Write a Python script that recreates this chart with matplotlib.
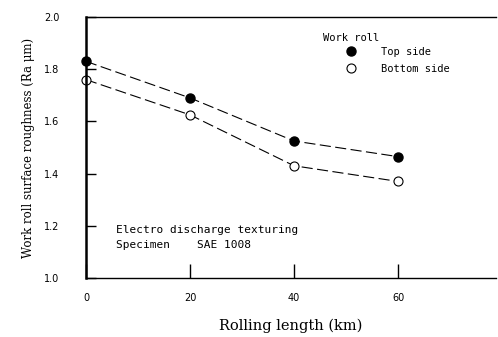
import matplotlib
matplotlib.use("Agg")
import matplotlib.pyplot as plt
from matplotlib.lines import Line2D

rolling_length = [0, 20, 40, 60]
top_side = [1.83, 1.69, 1.525, 1.465]
bottom_side = [1.76, 1.625, 1.43, 1.37]
y_ticks = [1.0, 1.2, 1.4, 1.6, 1.8, 2.0]
x_ticks = [0, 20, 40, 60]

plt.rcParams['font.family'] = ['DejaVu Serif']

fig = plt.figure(figsize=(4.98, 3.37), dpi=100)
ax = fig.add_axes([86/498, 1-278/337, 410/498, 261/337])

ax.plot(rolling_length, top_side, color='black', lw=0.8, ls=(0, (10, 4)),
        marker='o', markersize=6.5, markerfacecolor='black', markeredgecolor='black',
        clip_on=False)
ax.plot(rolling_length, bottom_side, color='black', lw=0.8, ls=(0, (10, 4)),
        marker='o', markersize=6.5, markerfacecolor='white', markeredgecolor='black',
        markeredgewidth=0.8, clip_on=False)

ax.set_xlim(0, 410/5.2)
ax.set_ylim(1.0, 2.0)
ax.set_xticks(x_ticks)
ax.set_yticks(y_ticks)
ax.set_xticklabels([str(v) for v in x_ticks], fontsize=7, family='DejaVu Sans')
ax.set_yticklabels([f"{v:.1f}" for v in y_ticks], fontsize=7, family='DejaVu Sans')
ax.tick_params(axis='y', direction='in', length=7, width=1, pad=19)
ax.tick_params(axis='x', direction='in', length=10, width=1, pad=11)

ax.spines['right'].set_visible(False)
ax.spines['left'].set_linewidth(1.8)
ax.spines['bottom'].set_linewidth(1.0)
ax.spines['top'].set_linewidth(1.0)

ax.set_xlabel('Rolling length (km)', fontsize=10.5, labelpad=11)
ax.set_ylabel('Work roll surface roughness (Ra \u03bcm)', fontsize=8.5, labelpad=7)

mono = 'DejaVu Sans Mono'
fig.text(323/498, 1-38/337, 'Work roll', fontsize=7.5, family=mono, va='center', ha='left')
handles = [
    Line2D([], [], ls='none', marker='o', markersize=6.5, markerfacecolor='black',
           markeredgecolor='black'),
    Line2D([], [], ls='none', marker='o', markersize=6.5, markerfacecolor='white',
           markeredgecolor='black', markeredgewidth=0.8),
]
leg = fig.legend(handles, ['Top side', 'Bottom side'], loc='upper left',
                 bbox_to_anchor=(346/498, 1-47/337), frameon=False,
                 prop={'family': mono, 'size': 7.5}, handlelength=1.0,
                 handletextpad=2.4, labelspacing=0.65, borderpad=0, borderaxespad=0)

ax.text(30/412, (278-230)/261, 'Electro discharge texturing', transform=ax.transAxes,
        fontsize=8, family=mono, va='center', ha='left')
ax.text(30/412, (278-245)/261, 'Specimen    SAE 1008', transform=ax.transAxes,
        fontsize=8, family=mono, va='center', ha='left')

fig.savefig('out.png', dpi=100)
